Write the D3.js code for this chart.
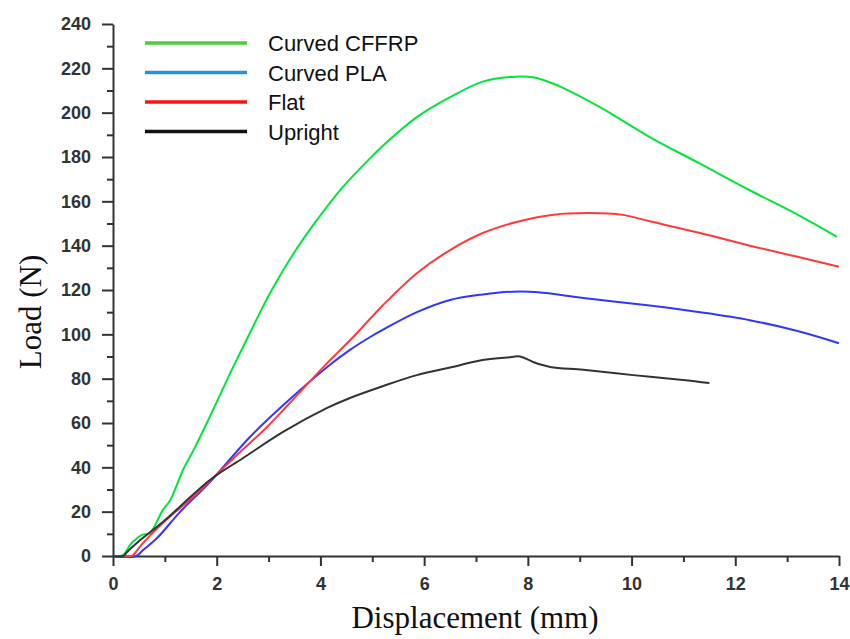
<!DOCTYPE html>
<html>
<head>
<meta charset="utf-8">
<script src="https://cdn.jsdelivr.net/npm/d3@7.9.0/dist/d3.min.js"></script>
<style>
  body { margin: 0; background: #fff; }
  .tick text { font-family: "Liberation Sans", Arial, sans-serif; font-size: 18px; font-weight: bold; fill: #333; }
</style>
</head>
<body>
<svg id="chart" width="850" height="639"></svg>
<script>
// series: [displacement (mm), load (N)]
const curvedCFFRP = [[0,0],[0.15,0],[0.23,1.3],[0.33,5],[0.42,7.2],[0.56,9.5],[0.71,10.4],[0.96,20.7],[1.1,25],[1.35,38.8],[1.58,49],[1.81,60],[2.26,82.5],[2.45,91.6],[2.7,103.5],[3.03,118.6],[3.47,136],[3.93,151.5],[4.43,166.4],[4.96,179.5],[5.2,185],[5.86,198],[6.5,207],[7.13,214],[7.6,216],[8.1,216],[8.6,212],[9.39,202.5],[10.35,189],[11.32,177],[12.28,165],[13.2,154],[13.96,144]];
const curvedPLA = [[0,0],[0.45,0],[0.58,2.7],[0.85,8.1],[1.29,19.8],[1.87,33.4],[2.64,53.7],[3.28,68],[4.13,85.3],[4.57,93],[4.96,98.8],[5.2,102],[5.86,110],[6.5,115.5],[7.13,118],[7.7,119.2],[8.2,119],[9.07,116.4],[10.35,113],[11.32,110],[12.28,106.4],[13.2,101.5],[14,96]];
const flat = [[0,0],[0.35,0],[0.39,0.5],[0.58,5.9],[0.96,14.9],[1.54,26.6],[2.39,45.6],[2.97,58.2],[3.41,69],[4.13,87],[4.6,98],[5.2,113],[5.86,127.6],[6.5,138],[7.13,145.7],[7.78,150.7],[8.5,154],[9.2,154.7],[9.8,154],[10.35,151],[11.32,145.7],[12.28,140],[13.2,135],[14,130.5]];
const upright = [[0,0],[0.2,0],[0.27,1.8],[0.46,5.9],[0.96,15.3],[1.87,34.3],[2.51,44.2],[3.28,56],[4.13,66.8],[4.57,71.3],[5.2,76.6],[5.86,81.6],[6.5,85],[7.13,88.4],[7.6,89.5],[7.85,90],[8.1,87.5],[8.43,85.3],[9.07,84],[10.03,81.6],[10.99,79.4],[11.5,78]];

const seriesNames = ['Curved CFFRP', 'Curved PLA', 'Flat', 'Upright'];
const seriesData = [curvedCFFRP, curvedPLA, flat, upright];
const lineColors = ['#00e63c', '#3535ff', '#ff3a3a', '#333333'];
const legendColors = ['#4ccc3a', '#2a93e0', '#ff1010', '#111111'];

const xTicks = [0, 2, 4, 6, 8, 10, 12, 14];
const yTicks = [0, 20, 40, 60, 80, 100, 120, 140, 160, 180, 200, 220, 240];

const margin = { top: 24, right: 11, bottom: 83, left: 113 };
const width = 850 - margin.left - margin.right;
const height = 639 - margin.top - margin.bottom;

const svg = d3.select('#chart');
const g = svg.append('g').attr('transform', `translate(${margin.left},${margin.top})`);

const x = d3.scaleLinear().domain([0, 14]).range([0, width]);
const y = d3.scaleLinear().domain([0, 240]).range([height, 0]);

// minor ticks
g.append('g')
  .attr('transform', `translate(0,${height})`)
  .call(d3.axisBottom(x).tickValues(d3.range(1, 14, 2)).tickSize(6).tickFormat(''))
  .call(a => a.select('.domain').remove());
g.append('g')
  .call(d3.axisLeft(y).tickValues(d3.range(10, 240, 20)).tickSize(6).tickFormat(''))
  .call(a => a.select('.domain').remove());

g.append('g')
  .attr('transform', `translate(0,${height})`)
  .call(d3.axisBottom(x).tickValues(xTicks).tickSize(10).tickPadding(11).tickSizeOuter(0));
g.append('g')
  .call(d3.axisLeft(y).tickValues(yTicks).tickSize(11).tickPadding(11).tickSizeOuter(0));

g.selectAll('.domain').attr('stroke', '#333').attr('stroke-width', 2);
g.selectAll('.tick line').attr('stroke', '#333').attr('stroke-width', 2);

const line = d3.line()
  .x(d => x(d[0]))
  .y(d => y(d[1]))
  .curve(d3.curveCatmullRom.alpha(0.5));

seriesData.forEach((data, i) => {
  g.append('path')
    .datum(data)
    .attr('fill', 'none')
    .attr('stroke', lineColors[i])
    .attr('stroke-width', 2)
    .attr('d', line);
});

// legend
const legend = svg.append('g');
seriesNames.forEach((name, i) => {
  const ly = 43 + i * 29.5;
  legend.append('line')
    .attr('x1', 145).attr('x2', 247)
    .attr('y1', ly).attr('y2', ly)
    .attr('stroke', legendColors[i])
    .attr('stroke-width', 3.5);
  legend.append('text')
    .attr('x', 268).attr('y', ly + 8)
    .attr('font-family', '"Liberation Sans", Arial, sans-serif')
    .attr('font-size', 22)
    .attr('fill', '#111')
    .text(name);
});

// axis titles
svg.append('text')
  .attr('x', margin.left + width / 2 - 1).attr('y', 628)
  .attr('text-anchor', 'middle')
  .attr('font-family', '"Liberation Serif", "Times New Roman", serif')
  .attr('font-size', 31)
  .attr('fill', '#111')
  .text('Displacement (mm)');

svg.append('text')
  .attr('transform', `translate(41,${margin.top + 288}) rotate(-90)`)
  .attr('text-anchor', 'middle')
  .attr('font-family', '"Liberation Serif", "Times New Roman", serif')
  .attr('font-size', 31)
  .attr('fill', '#111')
  .text('Load (N)');
</script>
</body>
</html>
